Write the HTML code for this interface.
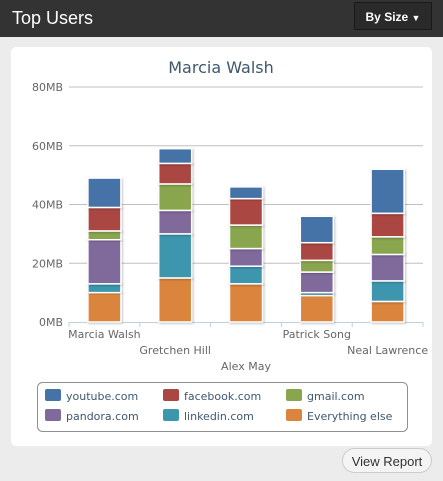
<!DOCTYPE html>
<html><head><meta charset="utf-8"><style>
body{margin:0;width:443px;height:481px;background:#ececec;font-family:"DejaVu Sans","Liberation Sans",sans-serif;position:relative;overflow:hidden}
#hdr{position:absolute;left:0;top:0;width:443px;height:37px;background:#333}
#ttl{position:absolute;left:12px;top:8px;color:#fff;font:18px "Liberation Sans",sans-serif}
#bysize{position:absolute;left:354px;top:2px;width:78px;height:28px;background:#2a2a2a;border:1px solid #1a1a1a;color:#fff;font:bold 12px "Liberation Sans",sans-serif;line-height:28px;text-align:center;box-sizing:border-box}
#panel{position:absolute;left:11px;top:47px;width:421px;height:399px;background:#fff;border-radius:5px}
#vr{position:absolute;left:342px;top:448px;width:90px;height:25px;border:1px solid #ccc;border-radius:13px;background:#f4f4f4;font:13px "Liberation Sans",sans-serif;color:#333;text-align:center;line-height:25px;box-sizing:border-box}
svg{position:absolute;left:0;top:0}
</style></head><body>
<div id="hdr"></div>
<div id="ttl">Top Users</div>
<div id="bysize">By Size <span style="font-size:9px">&#9660;</span></div>
<div id="panel"></div>
<div id="vr">View Report</div>
<svg id="chart" width="443" height="481"></svg>
<script>
const categories=["Marcia Walsh","Gretchen Hill","Alex May","Patrick Song","Neal Lawrence"];
const seriesNames=["Everything else","linkedin.com","pandora.com","gmail.com","facebook.com","youtube.com"];
const everythingElse=[10,15,13,9,7];
const linkedin=[3,15,6,1,7];
const pandora=[15,8,6,7,9];
const gmail=[3,9,8,4,6];
const facebook=[8,7,9,6,8];
const youtube=[10,5,4,9,15];
const yTicks=[0,20,40,60,80];
const yTickLabels=["0MB","20MB","40MB","60MB","80MB"];
const colors=["#db843d","#3d96ae","#80699b","#89a54e","#aa4643","#4572a7"];
const series=[everythingElse,linkedin,pandora,gmail,facebook,youtube];
const NS="http://www.w3.org/2000/svg";
const svg=document.getElementById('chart');
const X0=69,X1=423,Y0=322,Y1=87,YMAX=80;
const y=v=>Y0-(v/YMAX)*(Y0-Y1);
const bw=(X1-X0)/categories.length;
const xc=i=>X0+bw*(i+0.5);
function mk(t,a){const e=document.createElementNS(NS,t);for(const k in a)e.setAttribute(k,a[k]);svg.appendChild(e);return e;}
let t=mk('text',{x:221,y:73,'text-anchor':'middle','font-size':16,fill:'#3e576f','font-family':'DejaVu Sans,sans-serif'});t.textContent="Marcia Walsh";


yTicks.forEach((v,i)=>{
  if(v>0){const l=mk('line',{x1:X0,x2:X1,y1:y(v),y2:y(v),stroke:'#c0c0c0'});
  
  }
  const tx=mk('text',{x:63,y:y(v)+4,'text-anchor':'end','font-size':11,fill:'#666'});tx.textContent=yTickLabels[i];
  
  
});
const ax=mk('line',{x1:X0,x2:X1,y1:Y0+0.5,y2:Y0+0.5,stroke:'#c0d0e0'});


for(let i=0;i<=categories.length;i++){const tk=mk('line',{x1:X0+bw*i,x2:X0+bw*i,y1:Y0,y2:Y0+5,stroke:'#c0d0e0'});

}
const defs=mk('defs',{});
defs.innerHTML='<filter id="sh" x="-20%" y="-20%" width="140%" height="140%"><feDropShadow dx="1" dy="1" stdDeviation="1" flood-opacity="0.25"/></filter>';
categories.forEach((c,i)=>{
  let base=0;
  series.forEach((s,j)=>{
    const v=s[i];
    const r=mk('rect',{x:xc(i)-16.5,y:y(base+v),width:33,height:y(base)-y(base+v),fill:colors[j],stroke:'#fff','stroke-width':1.5,filter:'url(#sh)'});
    
    
    base+=v;
  });
  const rowY=[334,350,366,334,350][i];
  const lb=mk('text',{x:xc(i),y:rowY+4,'text-anchor':'middle','font-size':11,fill:'#666'});lb.textContent=c;
  
  
});
const lgb=mk('rect',{x:37.5,y:382.5,width:370,height:49,rx:5,fill:'none',stroke:'#909090'});


const legendOrder=[5,4,3,2,1,0];
const lx=[45,163,286];
legendOrder.forEach((j,k)=>{
  const col=k%3,row=Math.floor(k/3);
  const g=mk('g',{});
  
  
  const sw=document.createElementNS(NS,'rect');
  sw.setAttribute('x',lx[col]);sw.setAttribute('y',389+row*20);sw.setAttribute('width',16);sw.setAttribute('height',12);sw.setAttribute('rx',2);sw.setAttribute('fill',colors[j]);
  g.appendChild(sw);
  const tt=document.createElementNS(NS,'text');
  tt.setAttribute('x',lx[col]+21);tt.setAttribute('y',400+row*20);tt.setAttribute('font-size',11);tt.setAttribute('fill','#3e576f');
  tt.textContent=seriesNames[j];
  g.appendChild(tt);
});
</script>
</body></html>
